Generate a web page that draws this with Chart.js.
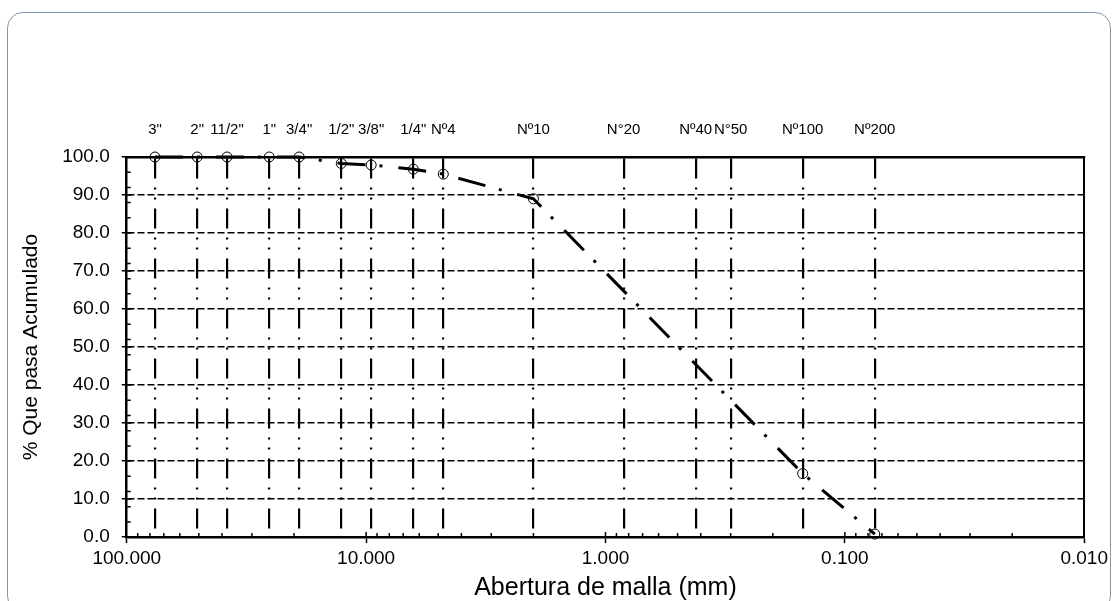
<!DOCTYPE html>
<html>
<head>
<meta charset="utf-8">
<script src="https://cdn.jsdelivr.net/npm/chart.js@4.4.1/dist/chart.umd.min.js"></script>
<style>
  html, body { margin: 0; padding: 0; background: #fff; }
  #wrap { position: relative; width: 1113px; height: 601px; overflow: hidden; }
  #frame { position: absolute; left: 7px; top: 12px; width: 1104px; height: 600px;
           border: 1.5px solid #8196b3; border-radius: 16px; box-sizing: border-box; }
  canvas { position: absolute; left: 0; top: 0; }
</style>
</head>
<body>
<div id="wrap">
  <div id="frame"></div>
  <canvas id="chart" width="1113" height="601"></canvas>
</div>
<script>
// sieve names, openings (mm) and % passing
const sieveLabels = ['3"', '2"', '11/2"', '1"', '3/4"', '1/2"', '3/8"', '1/4"', 'Nº4', 'Nº10', 'N°20', 'Nº40', 'N°50', 'Nº100', 'Nº200'];
const sieveSizes = [76.2, 50.8, 38.1, 25.4, 19.05, 12.7, 9.525, 6.35, 4.76, 2.0, 0.84, 0.42, 0.3, 0.15, 0.075];
const passing = [100, 100, 100, 100, 100, 98.3, 97.9, 96.8, 95.5, 89.0, null, null, null, 16.7, 0.8];
const xTicks = [100, 10, 1, 0.1, 0.01];

const font = 'Arial, "Liberation Sans", sans-serif';

// small inner ticks like the spreadsheet axes
const minorTicks = {
    id: 'minorTicks',
    afterDraw(chart) {
        const { ctx, chartArea: a, scales } = chart;
        ctx.save();
        ctx.strokeStyle = '#000';
        ctx.lineWidth = 1.5;
        ctx.beginPath();
        for (let v = 0; v <= 100; v += 2) {
            let len = 0;
            if (v % 10 === 0) len = 5;
            else if (v % 4 === 0) len = 4;
            if (!len) continue;
            const y = scales.y.getPixelForValue(v);
            ctx.moveTo(a.left, y);
            ctx.lineTo(a.left + len, y);
        }
        for (const d of [0.01, 0.1, 1, 10]) {
            for (let k = 1; k <= 9; k++) {
                const x = scales.x.getPixelForValue(d * k);
                ctx.moveTo(x, a.bottom);
                ctx.lineTo(x, a.bottom - (k === 1 ? 5 : 4));
            }
        }
        ctx.stroke();
        ctx.restore();
    }
};

const points = sieveSizes.map((s, i) => ({ x: s, y: passing[i] }));

const ctx = document.getElementById('chart').getContext('2d');

new Chart(ctx, {
    type: 'line',
    data: {
        datasets: [{
            data: points,
            xAxisID: 'x',
            yAxisID: 'y',
            borderColor: '#000',
            borderWidth: 3,
            borderDash: [28, 14, 3, 16],
            pointRadius: 5,
            pointBorderWidth: 1,
            pointBorderColor: '#000',
            pointBackgroundColor: 'rgba(0,0,0,0)',
            spanGaps: true,
            tension: 0,
            fill: false,
            clip: false
        }]
    },
    options: {
        responsive: false,
        animation: false,
        layout: { padding: { left: 19, right: 28, top: 103, bottom: 0 } },
        plugins: { legend: { display: false }, tooltip: { enabled: false } },
        scales: {
            x: {
                type: 'logarithmic', position: 'bottom', reverse: true, min: 0.01, max: 100,
                afterBuildTicks: s => { s.ticks = xTicks.map(v => ({ value: v })); },
                ticks: {
                    callback: v => Number(v).toFixed(3),
                    color: '#000', font: { family: font, size: 19, lineHeight: 1.1 },
                    padding: 5, maxRotation: 0, autoSkip: false
                },
                grid: { drawOnChartArea: false, tickLength: 6, tickColor: '#000', tickWidth: 1.5 },
                border: { color: '#000', width: 2.5 },
                title: {
                    display: true, text: 'Abertura de malla (mm)', color: '#000',
                    font: { family: font, size: 25, lineHeight: 1.0 }, padding: { top: 2, bottom: 0 }
                }
            },
            x2: {
                type: 'logarithmic', position: 'top', reverse: true, min: 0.01, max: 100,
                afterBuildTicks: s => { s.ticks = sieveSizes.map(v => ({ value: v })); },
                ticks: {
                    callback: (v, i) => sieveLabels[i],
                    color: '#000', font: { family: font, size: 15 },
                    padding: 18, maxRotation: 0, autoSkip: false
                },
                grid: { color: '#000', lineWidth: 2.2, drawTicks: false },
                border: { color: '#000', width: 2.5, dash: [20, 9, 2, 8, 2, 9] }
            },
            y: {
                min: 0, max: 100,
                ticks: {
                    stepSize: 10, callback: v => Number(v).toFixed(1),
                    color: '#000', font: { family: font, size: 19 }, padding: 12
                },
                grid: { color: '#000', lineWidth: 1.5, tickLength: 5, tickColor: '#000' },
                border: { color: '#000', width: 2.5, dash: [7, 3] },
                title: {
                    display: true, text: '% Que pasa Acumulado', color: '#000',
                    font: { family: font, size: 21 }, padding: { top: 0, bottom: 6 }
                }
            },
            y2: {
                position: 'right', min: 0, max: 100,
                ticks: { display: false },
                grid: { drawOnChartArea: false, drawTicks: false },
                border: { color: '#000', width: 2 }
            }
        }
    },
    plugins: [minorTicks]
});
</script>
</body>
</html>
